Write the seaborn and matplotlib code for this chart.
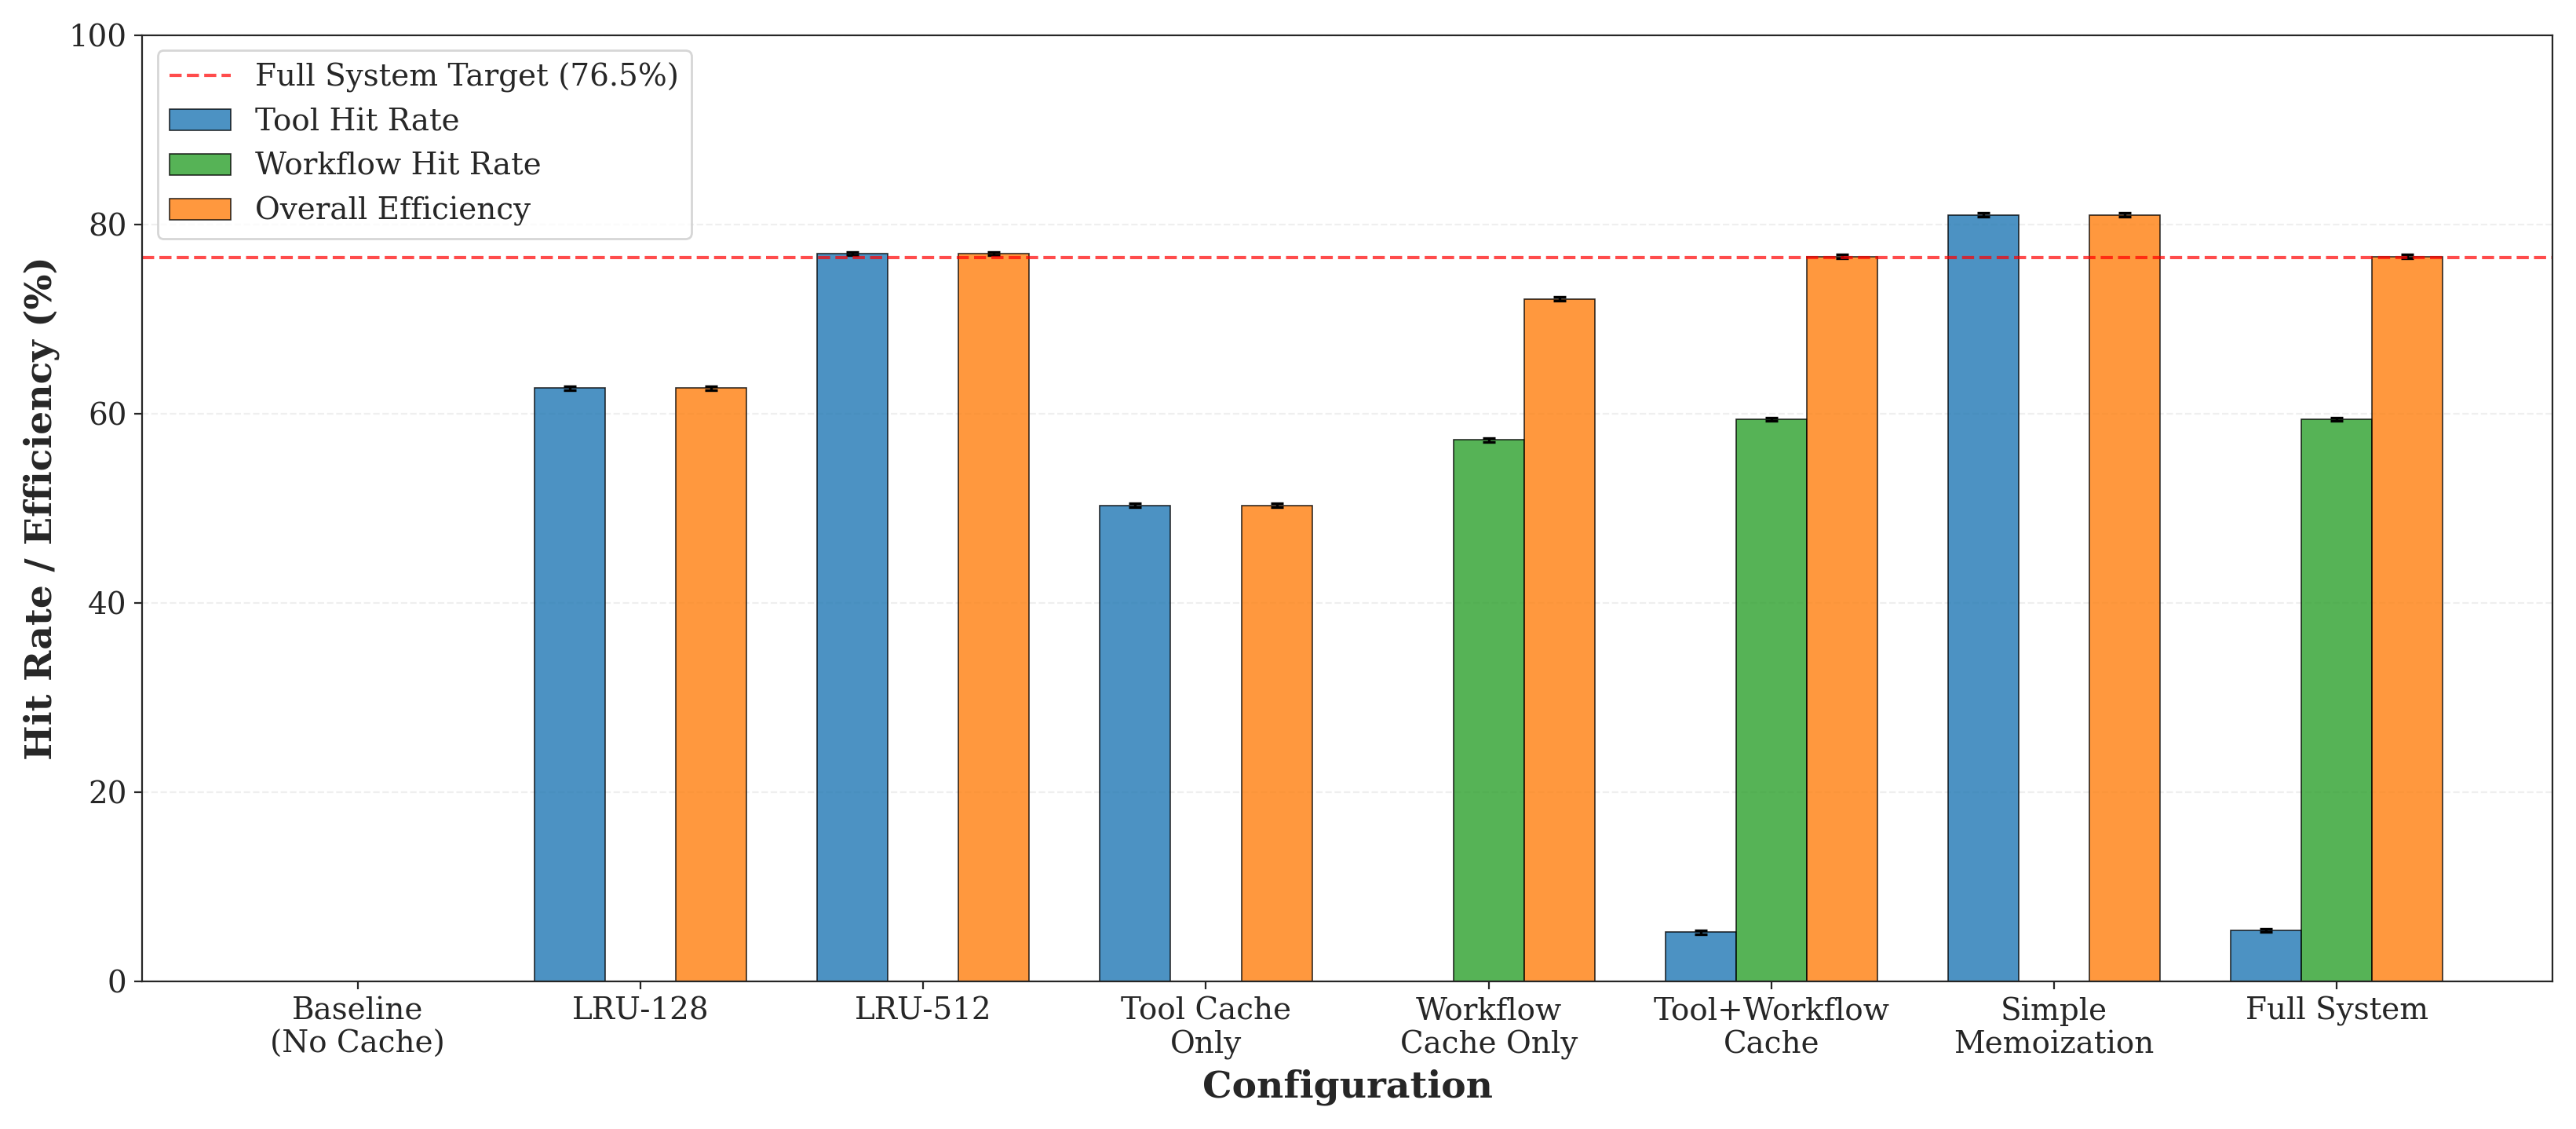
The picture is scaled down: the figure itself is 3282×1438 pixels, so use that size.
import matplotlib
matplotlib.use("Agg")
import matplotlib.pyplot as plt
import seaborn as sns
import pandas as pd
import numpy as np

configs = ['Baseline\n(No Cache)', 'LRU-128', 'LRU-512', 'Tool Cache\nOnly', 'Workflow\nCache Only',
           'Tool+Workflow\nCache', 'Simple\nMemoization', 'Full System']
tool_hit = [0, 62.7, 76.9, 50.3, 0, 5.2, 81.0, 5.4]
workflow_hit = [0, 0, 0, 0, 57.2, 59.4, 0, 59.4]
overall = [0, 62.7, 76.9, 50.3, 72.1, 76.6, 81.0, 76.6]
err = 0.2
target = 76.5

metrics = ['Tool Hit Rate', 'Workflow Hit Rate', 'Overall Efficiency']
df = pd.DataFrame({
    'Configuration': configs * 3,
    'Metric': np.repeat(metrics, len(configs)),
    'Value': tool_hit + workflow_hit + overall,
})

sns.set_style('ticks')
plt.rcParams['font.family'] = ['DejaVu Serif']
fig, ax = plt.subplots(figsize=(16.41, 7.19), dpi=200)

colors = ['#1f77b4', '#2ca02c', '#ff7f0e']
sns.barplot(data=df, x='Configuration', y='Value', hue='Metric', palette=colors, saturation=1,
            width=0.75, alpha=0.8, edgecolor='black', linewidth=0.6, errorbar=None, ax=ax)

# error bars on the nonzero bars
for p in ax.patches:
    h = p.get_height()
    if h > 0:
        ax.errorbar(p.get_x() + p.get_width() / 2, h, yerr=err, color='black',
                    capsize=3, elinewidth=1.2, capthick=1.2)

ax.axhline(target, color='red', linestyle='--', linewidth=1.5, alpha=0.7,
           label=f'Full System Target ({target}%)')

ax.set_ylim(0, 100)
ax.set_xlabel('Configuration', fontsize=17, fontweight='bold')
ax.set_ylabel('Hit Rate / Efficiency (%)', fontsize=17, fontweight='bold')
ax.tick_params(axis='both', labelsize=14)
ax.yaxis.grid(True, linestyle='--', alpha=0.3)
ax.set_axisbelow(True)

handles, labels = ax.get_legend_handles_labels()
order = [labels.index(f'Full System Target ({target}%)')] + [labels.index(m) for m in metrics]
ax.legend([handles[i] for i in order], [labels[i] for i in order], loc='upper left', fontsize=14)

plt.tight_layout()
plt.savefig('out.png', dpi=200)
